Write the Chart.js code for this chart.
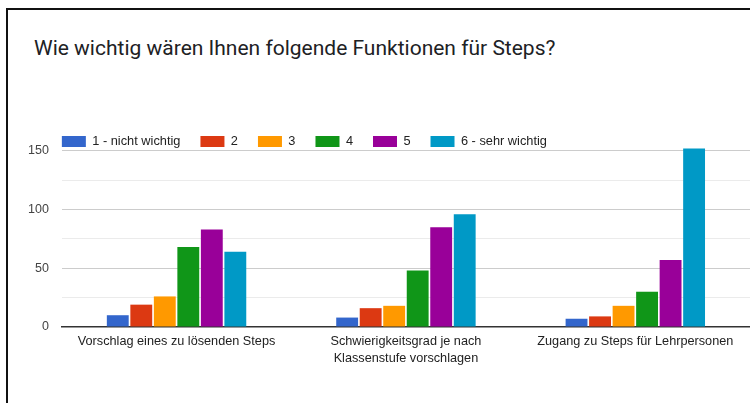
<!DOCTYPE html>
<html>
<head>
<meta charset="utf-8">
<script src="https://cdn.jsdelivr.net/npm/chart.js@4/dist/chart.umd.min.js"></script>
<style>
  html, body { margin: 0; padding: 0; background: #fff; }
  #wrap { position: relative; width: 750px; height: 403px; overflow: hidden; }
  #frame {
    position: absolute; left: 6px; top: 8px; width: 760px; height: 420px;
    border-top: 2px solid #111; border-left: 2px solid #111;
  }
  #title {
    position: absolute; left: 34px; top: 36px; line-height: 24px;
    font-family: Roboto, sans-serif; font-size: 21px; color: #202124;
  }
  canvas { position: absolute; left: 0; top: 0; }
</style>
</head>
<body>
<div id="wrap">
  <div id="frame"></div>
  <div id="title">Wie wichtig wären Ihnen folgende Funktionen für Steps?</div>
  <canvas id="chart" width="750" height="403"></canvas>
</div>
<script>
// Kategorien und Antworten (Anzahl Personen)
const categories = [
    'Vorschlag eines zu lösenden Steps',
    ['Schwierigkeitsgrad je nach', 'Klassenstufe vorschlagen'],
    'Zugang zu Steps für Lehrpersonen'
];
const seriesNames = ['1 - nicht wichtig', '2', '3', '4', '5', '6 - sehr wichtig'];
const seriesColors = ['#3366cc', '#dc3912', '#ff9900', '#109618', '#990099', '#0099c6'];

const rating1 = [10, 8, 7];
const rating2 = [19, 16, 9];
const rating3 = [26, 18, 18];
const rating4 = [68, 48, 30];
const rating5 = [83, 85, 57];
const rating6 = [64, 96, 152];

const yTicks = [0, 50, 100, 150];

const allSeries = [rating1, rating2, rating3, rating4, rating5, rating6];

// Legende etwas tiefer und bündig mit der Zeichenfläche setzen
const legendShift = {
    id: 'legendShift',
    afterLayout(chart) {
        const lg = chart.legend;
        if (!lg) return;
        lg.top += 7;
        lg.bottom += 7;
        lg.left -= 20;
        lg.right -= 20;
    }
};

const ctx = document.getElementById('chart').getContext('2d');
const chart = new Chart(ctx, {
    type: 'bar',
    data: {
        labels: categories,
        datasets: allSeries.map((values, i) => ({
            label: seriesNames[i],
            data: values,
            backgroundColor: seriesColors[i],
            borderWidth: 0,
            categoryPercentage: 0.615,
            barPercentage: 0.93,
            clip: false
        }))
    },
    plugins: [legendShift],
    options: {
        responsive: false,
        animation: false,
        layout: {
            padding: { top: 108, left: 15, right: 0, bottom: 30 }
        },
        plugins: {
            title: { display: false },
            tooltip: { enabled: false },
            legend: {
                position: 'top',
                align: 'start',
                fullSize: false,
                labels: {
                    boxWidth: 24,
                    boxHeight: 11,
                    padding: 20,
                    color: '#222',
                    font: { family: 'Liberation Sans', size: 12.8 }
                }
            }
        },
        scales: {
            x: {
                grid: { display: false, drawTicks: false },
                border: { display: true, color: '#333', width: 1.5 },
                ticks: {
                    color: '#222',
                    padding: 6,
                    maxRotation: 0,
                    autoSkip: false,
                    font: { family: 'Liberation Sans', size: 12.7, lineHeight: 1.34 }
                }
            },
            y: {
                min: 0,
                max: 150,
                border: { display: false },
                grid: {
                    drawTicks: false,
                    color: (c) => (c.tick && yTicks.includes(c.tick.value)) ? '#cccccc' : '#ebebeb',
                    lineWidth: 1
                },
                ticks: {
                    stepSize: 25,
                    padding: 13,
                    color: '#444',
                    font: { family: 'Liberation Sans', size: 12.5 },
                    callback: (v) => yTicks.includes(v) ? v : ''
                }
            }
        }
    }
});
</script>
</body>
</html>
